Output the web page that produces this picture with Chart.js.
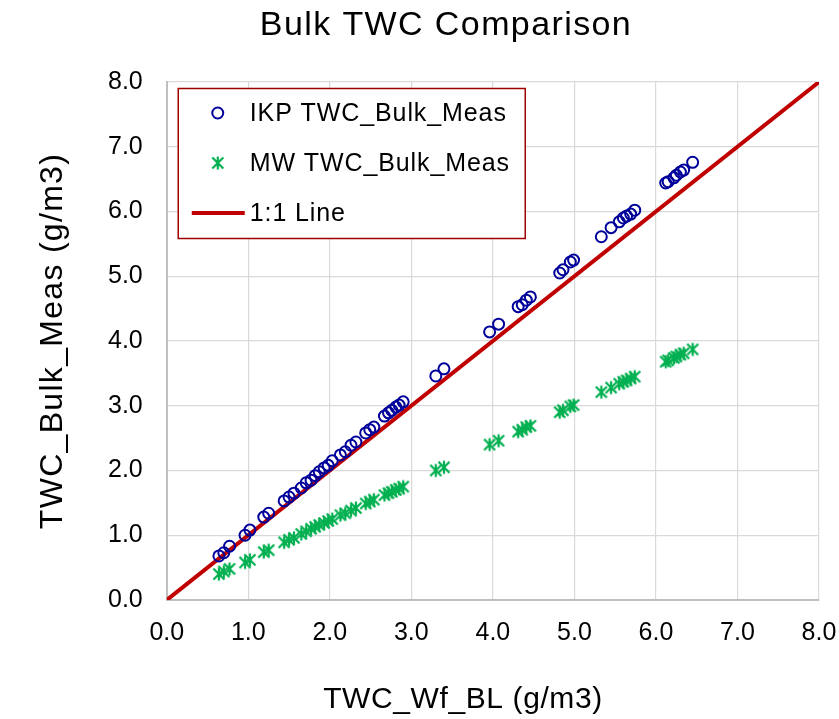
<!DOCTYPE html>
<html>
<head>
<meta charset="utf-8">
<script src="https://cdn.jsdelivr.net/npm/chart.js@4.4.0/dist/chart.umd.min.js"></script>
<style>
html,body{margin:0;padding:0;background:#fff;}
#wrap{width:839px;height:719px;position:relative;}
</style>
</head>
<body>
<div id="wrap"><canvas id="c" width="839" height="719"></canvas></div>
<script>
// ---- data ----
const xWfBL = [0.64,0.70,0.77,0.96,1.02,1.19,1.25,1.44,1.50,1.56,1.65,1.71,1.77,1.82,1.87,1.93,1.98,2.03,2.13,2.19,2.26,2.32,2.44,2.49,2.54,2.67,2.72,2.76,2.81,2.85,2.90,3.30,3.40,3.96,4.07,4.31,4.36,4.41,4.46,4.82,4.86,4.95,4.99,5.33,5.45,5.55,5.60,5.64,5.69,5.74,6.12,6.15,6.22,6.25,6.30,6.34,6.45];
const ikpMeas = [0.68,0.73,0.83,1.00,1.08,1.28,1.34,1.53,1.59,1.65,1.73,1.81,1.85,1.92,1.98,2.04,2.08,2.15,2.24,2.29,2.39,2.44,2.58,2.63,2.67,2.84,2.89,2.93,2.98,3.01,3.06,3.46,3.57,4.14,4.26,4.53,4.56,4.63,4.68,5.05,5.10,5.22,5.25,5.61,5.75,5.84,5.90,5.93,5.96,6.02,6.44,6.46,6.52,6.56,6.61,6.64,6.76];
const mwMeas = [0.40,0.44,0.48,0.58,0.62,0.74,0.77,0.89,0.93,0.96,1.02,1.06,1.10,1.13,1.16,1.19,1.22,1.25,1.31,1.34,1.38,1.42,1.49,1.52,1.55,1.62,1.65,1.67,1.70,1.72,1.75,2.00,2.05,2.40,2.46,2.60,2.63,2.67,2.69,2.90,2.93,2.99,3.01,3.21,3.28,3.34,3.37,3.39,3.42,3.45,3.68,3.70,3.74,3.76,3.79,3.81,3.87];
const lineX = [0, 8];
const lineY = [0, 8];
const axisTicks = [0, 1, 2, 3, 4, 5, 6, 7, 8];
const seriesLabels = ['IKP TWC_Bulk_Meas', 'MW TWC_Bulk_Meas', '1:1 Line'];
const chartTitle = 'Bulk TWC Comparison';
const xTitle = 'TWC_Wf_BL (g/m3)';
const yTitle = 'TWC_Bulk_Meas (g/m3)';

// ---- styles ----
const FONT = "'Liberation Sans', Arial, Helvetica, sans-serif";
const BLUE = '#00009A';
const GREEN = '#00B050';
const RED = '#C00000';

function makeStar(color, size, lw) {
  const c = document.createElement('canvas');
  c.width = size; c.height = size;
  const g = c.getContext('2d');
  const m = size / 2, r = size / 2 - 1.5;
  g.strokeStyle = color; g.lineWidth = lw;
  g.beginPath();
  g.moveTo(m - r * 0.85, m - r * 0.85); g.lineTo(m + r * 0.85, m + r * 0.85);
  g.moveTo(m + r * 0.85, m - r * 0.85); g.lineTo(m - r * 0.85, m + r * 0.85);
  g.moveTo(m, m - r); g.lineTo(m, m + r);
  g.stroke();
  return c;
}
const starImg = makeStar(GREEN, 16, 2.2);

const pts = (xs, ys) => xs.map((x, i) => ({x: x, y: ys[i]}));

function spaced(ctx, sp) { if ('letterSpacing' in ctx) ctx.letterSpacing = sp; }

const textPlugin = {
  id: 'texts',
  afterDraw(chart) {
    const ctx = chart.ctx, ca = chart.chartArea;
    ctx.save();
    ctx.fillStyle = '#000';
    ctx.textAlign = 'center';
    ctx.textBaseline = 'alphabetic';
    ctx.font = '34px ' + FONT;
    spaced(ctx, '1.4px');
    ctx.fillText(chartTitle, 446, 35);
    ctx.font = '30px ' + FONT;
    spaced(ctx, '0.6px');
    ctx.fillText(xTitle, 463, 708);
    ctx.save();
    ctx.translate(62, (ca.top + ca.bottom) / 2);
    ctx.rotate(-Math.PI / 2);
    ctx.font = '32px ' + FONT;
    spaced(ctx, '1.3px');
    ctx.fillText(yTitle, 0, 0);
    ctx.restore();
    spaced(ctx, '0px');
    ctx.restore();
  }
};

const legendPlugin = {
  id: 'boxLegend',
  afterDraw(chart) {
    const ctx = chart.ctx, ca = chart.chartArea;
    const L = ca.left + 11, T = ca.top + 6, W = 347, H = 150;
    ctx.save();
    ctx.fillStyle = '#fff';
    ctx.fillRect(L, T, W, H);
    ctx.strokeStyle = '#A00000';
    ctx.lineWidth = 1.5;
    ctx.strokeRect(L + 0.5, T + 0.5, W, H);
    chart.data.datasets.forEach((ds, i) => {
      const cy = T + 25 + i * 50;
      const mx = L + 40;
      if (ds.showLine) {
        ctx.strokeStyle = ds.borderColor; ctx.lineWidth = ds.borderWidth;
        ctx.beginPath(); ctx.moveTo(L + 14, cy); ctx.lineTo(L + 67, cy); ctx.stroke();
      } else if (ds.pointStyle === 'circle') {
        ctx.strokeStyle = ds.borderColor; ctx.lineWidth = ds.borderWidth;
        ctx.beginPath(); ctx.arc(mx, cy, ds.pointRadius, 0, Math.PI * 2); ctx.stroke();
      } else {
        ctx.drawImage(ds.pointStyle, mx - ds.pointStyle.width / 2, cy - ds.pointStyle.height / 2);
      }
      ctx.fillStyle = '#000';
      ctx.font = '25px ' + FONT;
      spaced(ctx, '0.9px');
      ctx.textAlign = 'left';
      ctx.textBaseline = 'middle';
      ctx.fillText(ds.label, L + 72, cy + 1);
      spaced(ctx, '0px');
    });
    ctx.restore();
  }
};

const tickFmt = v => Number(v).toFixed(1);
const xAxis = {
  type: 'linear', min: 0, max: 8,
  afterBuildTicks: s => { s.ticks = axisTicks.map(v => ({value: v})); },
  grid: { color: '#D9D9D9', lineWidth: 1.2, drawTicks: true, tickLength: 16, tickColor: 'rgba(0,0,0,0)' },
  border: { color: '#BFBFBF', width: 2 },
  title: { display: false },
  ticks: { callback: tickFmt, font: {size: 25, family: FONT}, color: '#000', padding: 2, maxRotation: 0 }
};
const yAxis = {
  type: 'linear', min: 0, max: 8,
  afterBuildTicks: s => { s.ticks = axisTicks.map(v => ({value: v})); },
  grid: { color: '#D9D9D9', lineWidth: 1.2, drawTicks: false },
  border: { color: '#BFBFBF', width: 2 },
  title: { display: false },
  ticks: { callback: tickFmt, font: {size: 25, family: FONT}, color: '#000', padding: 24 }
};

new Chart(document.getElementById('c'), {
  type: 'scatter',
  data: {
    datasets: [
      { label: seriesLabels[0], data: pts(xWfBL, ikpMeas), pointStyle: 'circle', pointRadius: 5.5,
        borderColor: BLUE, backgroundColor: 'rgba(0,0,0,0)', borderWidth: 2, showLine: false },
      { label: seriesLabels[1], data: pts(xWfBL, mwMeas), pointStyle: starImg, pointRadius: 7,
        borderColor: GREEN, backgroundColor: GREEN, borderWidth: 2, showLine: false },
      { label: seriesLabels[2], data: pts(lineX, lineY), showLine: true, pointRadius: 0,
        borderColor: RED, borderWidth: 4, backgroundColor: RED }
    ]
  },
  options: {
    responsive: false,
    animation: false,
    devicePixelRatio: 1,
    events: [],
    layout: { padding: { top: 82, right: 20, bottom: 69, left: 84 } },
    plugins: { legend: { display: false }, title: { display: false }, tooltip: { enabled: false } },
    scales: { x: xAxis, y: yAxis }
  },
  plugins: [textPlugin, legendPlugin]
});
</script>
</body>
</html>
